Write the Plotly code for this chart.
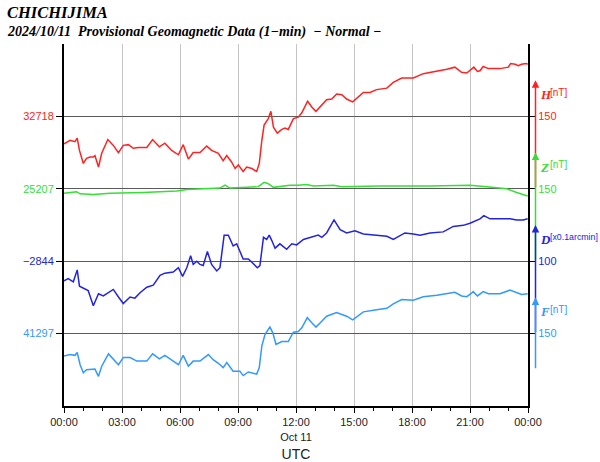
import plotly.graph_objects as go
import pandas as pd

# ---------------- data ----------------
DAY = "2024-10-11"

# minutes after 00:00 UTC and values
H_t = [0,19,34,41,48,60,70,81,91,96,107,117,136,153,169,184,200,215,231,257,275,296,313,334,355,370,386,401,422,443,
       458,479,494,505,520,531,541,556,567,583,598,606,614,621,634,642,650,662,676,686,696,712,727,738,756,769,782,800,815,831,
       846,862,877,896,913,929,950,970,1002,1022,1048,1084,1115,1157,1188,1213,1234,1250,1265,1272,1283,1291,1301,1317,1353,1379,1386,1400,1410,1420,
       1434,1439]
H_v = [32680,32685,32683,32688,32671,32653,32660,32662,32662,32664,32648,32667,32686,32678,32668,32678,32679,32674,32675,32675,
       32686,32676,32681,32671,32665,32679,32659,32668,32668,32677,32671,32667,32657,32664,32655,32646,32651,32642,32648,32646,
       32642,32653,32685,32706,32715,32725,32703,32695,32700,32702,32700,32715,32717,32723,32739,32731,32725,32733,32741,32742,
       32749,32748,32742,32738,32745,32751,32751,32755,32757,32765,32771,32771,32777,32780,32783,32786,32779,32778,32784,32786,
       32780,32781,32787,32784,32784,32786,32791,32790,32788,32790,32791,32790]

Z_t = [0,39,50,91,143,195,246,298,350,381,453,484,500,515,567,603,621,634,650,670,701,727,753,774,836,862,981,1136,1260,1312,
       1374,1405,1439]
Z_v = [25201,25203,25200,25199,25201,25201,25202,25203,25204,25206,25208,25208,25212,25208,25209,25210,25216,25214,25209,25210,
       25212,25212,25213,25211,25212,25210,25211,25211,25212,25210,25207,25202,25197]

D_t = [0,13,29,41,48,60,75,91,107,122,138,153,169,184,205,220,236,257,277,298,313,339,355,368,381,393,401,412,422,432,
       445,458,474,484,497,510,525,536,556,572,583,600,608,619,629,637,645,655,670,691,707,722,743,763,789,800,815,838,857,877,
       903,929,960,1002,1022,1058,1084,1105,1136,1177,1208,1239,1260,1291,1303,1322,1353,1384,1405,1425,1439]
D_v = [-2862,-2860,-2863,-2852,-2867,-2869,-2871,-2885,-2874,-2876,-2873,-2870,-2877,-2883,-2877,-2878,-2873,-2868,-2866,-2857,
       -2855,-2854,-2850,-2858,-2850,-2839,-2847,-2844,-2847,-2848,-2835,-2847,-2853,-2850,-2820,-2820,-2830,-2828,-2842,-2842,
       -2845,-2850,-2848,-2822,-2824,-2820,-2825,-2832,-2828,-2833,-2828,-2829,-2824,-2822,-2820,-2822,-2818,-2806,-2815,-2818,
       -2816,-2819,-2820,-2821,-2824,-2818,-2819,-2820,-2818,-2817,-2812,-2811,-2809,-2805,-2802,-2805,-2805,-2805,-2806,-2806,
       -2805]

F_t = [0,19,34,41,50,60,70,86,96,107,117,138,153,169,184,205,226,257,275,296,313,334,355,370,386,401,422,448,463,479,
       494,505,525,546,556,572,598,606,614,624,639,648,658,676,696,712,727,738,755,769,782,800,815,846,877,896,913,929,970,1002,
       1022,1048,1084,1115,1157,1188,1213,1234,1250,1265,1270,1283,1301,1317,1353,1384,1405,1420,1439]
F_v = [41266,41268,41267,41271,41254,41243,41247,41247,41248,41238,41252,41269,41262,41254,41264,41264,41259,41259,41269,41262,
       41267,41261,41254,41267,41252,41259,41259,41268,41261,41256,41250,41257,41245,41245,41239,41244,41241,41250,41280,41296,
       41306,41298,41282,41286,41286,41299,41300,41305,41319,41312,41306,41314,41321,41326,41321,41316,41322,41327,41330,41332,
       41338,41344,41343,41348,41350,41352,41354,41349,41348,41353,41355,41349,41355,41352,41352,41357,41354,41351,41352]

components = ["H", "Z", "D", "F"]
base_values = [32718, 25207, -2844, 41297]       # left labels (value at each gridline)
scale_labels = ["150", "150", "100", "150"]     # right labels (arrow length)
units = ["[nT]", "[nT]", "[x0.1arcmin]", "[nT]"]
units_per_div = [100, 100, 100 / 1.5, 100]

x_tick_hours = [0, 3, 6, 9, 12, 15, 18, 21, 24]
x_tick_text = ["00:00", "03:00", "06:00", "09:00", "12:00<br>Oct 11", "15:00", "18:00", "21:00", "00:00"]

# ---------------- styling ----------------
colors = ["#ff2222", "#33e033", "#2323e0", "#3399ff"]
levels = [3, 2, 1, 0]
arrow_span = [(2, 3.5), (1, 2.5), (0, 1.5), (-0.5, 0.5)]
unit_sizes = [10, 10, 8.8, 10]

day0 = pd.Timestamp(DAY)
def times(mins):
    return [day0 + pd.Timedelta(minutes=m) for m in mins]

series_t = [H_t, Z_t, D_t, F_t]
series_v = [H_v, Z_v, D_v, F_v]

fig = go.Figure()
for t, v, base, lvl, per, col in zip(series_t, series_v, base_values, levels, units_per_div, colors):
    fig.add_trace(go.Scatter(
        x=times(t), y=[lvl + (val - base) / per for val in v],
        mode="lines", line=dict(color=col, width=1.5), hoverinfo="skip", showlegend=False))

# invisible trace on right axis so it is drawn
fig.add_trace(go.Scatter(x=[day0], y=[0], yaxis="y2", mode="markers",
                         marker=dict(opacity=0), hoverinfo="skip", showlegend=False))

sans = "Liberation Sans, Arial, sans-serif"
serif = "Liberation Serif, Times New Roman, serif"

def fmt(b):
    return str(b).replace("-", "\u2212")

left_text = [f"<span style='color:{c}'>{fmt(b)}</span>" for b, c in zip(base_values, colors)]
right_text = [f"<span style='color:{c}'>{s}</span>" for s, c in zip(scale_labels, colors)]

fig.update_layout(
    width=600, height=462,
    margin=dict(l=64, r=72, t=44, b=56, autoexpand=False),
    paper_bgcolor="white", plot_bgcolor="white",
    hovermode=False, showlegend=False,
    xaxis=dict(
        type="date", automargin=False,
        range=[day0, day0 + pd.Timedelta(hours=24)],
        tickmode="array",
        tickvals=[day0 + pd.Timedelta(hours=h) for h in x_tick_hours],
        ticktext=x_tick_text,
        ticks="outside", ticklen=5, tickcolor="black", tickwidth=1,
        showgrid=True, gridcolor="#c4c4c4", gridwidth=1,
        showline=True, linecolor="black", linewidth=2,
        zeroline=False,
        tickfont=dict(family=sans, size=11, color="#222"),
        minor=dict(tick0=day0, dtick=3600000, ticks="outside", ticklen=3, tickcolor="black", showgrid=False),
        title=dict(text="UTC", font=dict(family=sans, size=14, color="#222"), standoff=8),
    ),
    yaxis=dict(
        automargin=False,
        range=[-1, 4], tickmode="array", tickvals=levels, ticktext=left_text,
        ticks="outside", ticklen=6, tickcolor="black",
        showgrid=True, gridcolor="#5a5a5a", gridwidth=1,
        showline=True, linecolor="black", linewidth=2, zeroline=False,
        tickfont=dict(family=sans, size=11),
    ),
    yaxis2=dict(
        automargin=False,
        range=[-1, 4], overlaying="y", side="right", tickmode="array",
        tickvals=levels, ticktext=right_text,
        ticks="outside", ticklen=6, tickcolor="black",
        showgrid=False, showline=True, linecolor="black", linewidth=2, zeroline=False,
        tickfont=dict(family=sans, size=11),
    ),
)

ann = []
ann.append(dict(xref="paper", yref="paper", x=(5 - 64) / 464, y=(406 - 12.5) / 362,
                xanchor="left", yanchor="middle", showarrow=False, text="CHICHIJIMA",
                font=dict(family=serif, size=16.5, color="black", weight="bold", style="italic")))
ann.append(dict(xref="paper", yref="paper", x=(5 - 64) / 464, y=(406 - 31.5) / 362,
                xanchor="left", yanchor="middle", showarrow=False,
                text="2024/10/11\u00a0\u00a0Provisional Geomagnetic Data (1\u2212min)\u00a0\u00a0\u2212 Normal \u2212",
                font=dict(family=serif, size=14, color="black", weight="bold", style="italic")))

arrow_x = 1 + 7.5 / 464
for comp, unit, usz, lvl, col, (lo, hi) in zip(components, units, unit_sizes, levels, colors, arrow_span):
    ann.append(dict(xref="paper", yref="y", x=arrow_x, y=hi, axref="pixel", ayref="y", ax=0, ay=lo,
                    showarrow=True, arrowhead=2, arrowsize=1, arrowwidth=1.5, arrowcolor=col, text=""))
    ann.append(dict(xref="paper", yref="y", x=(538 - 64) / 464, y=lvl + 0.30,
                    xanchor="left", yanchor="middle", showarrow=False, text=comp,
                    font=dict(family=serif, size=13, color=col, weight="bold", style="italic")))
    ann.append(dict(xref="paper", yref="y", x=(547.5 - 64) / 464, y=lvl + 0.33,
                    xanchor="left", yanchor="middle", showarrow=False, text=unit,
                    font=dict(family=sans, size=usz, color=col)))
fig.update_layout(annotations=ann)

fig.write_html("out.html")
